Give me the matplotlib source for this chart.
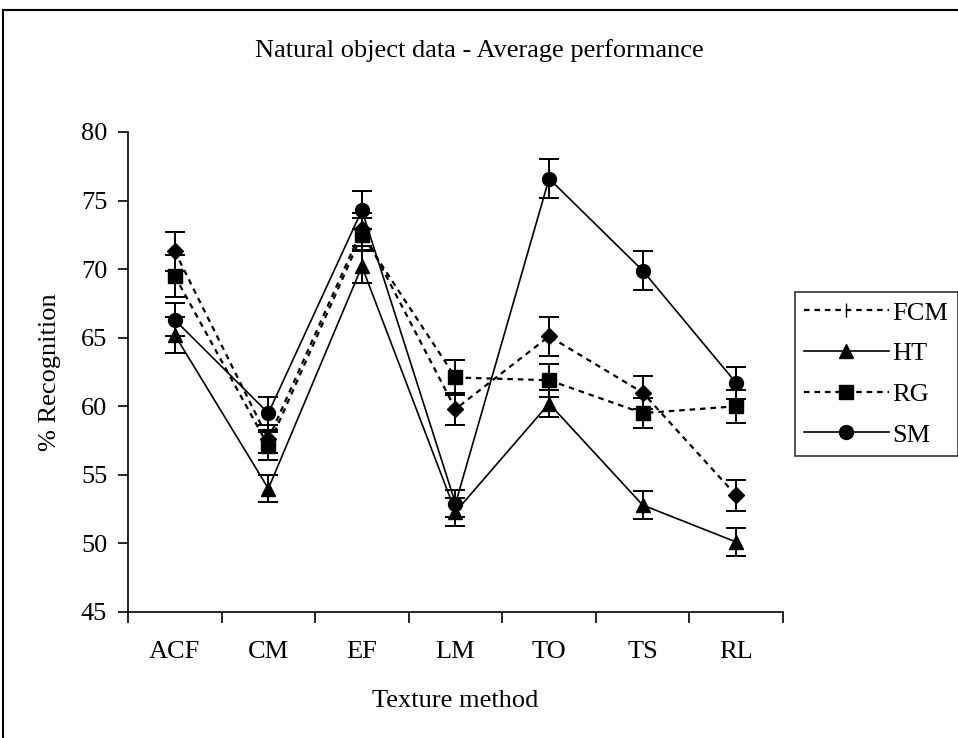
import matplotlib
matplotlib.use("Agg")
import matplotlib.pyplot as plt
from matplotlib.lines import Line2D

plt.rcParams['font.family'] = ['Liberation Serif', 'DejaVu Serif']

# data
methods = ["ACF", "CM", "EF", "LM", "TO", "TS", "RL"]
fcm = [71.3, 57.6, 72.9, 59.8, 65.1, 61.0, 53.5]
ht = [65.2, 54.0, 70.2, 52.3, 60.2, 52.8, 50.1]
rg = [69.5, 57.1, 72.5, 62.1, 61.9, 59.5, 60.0]
sm = [66.3, 59.5, 74.3, 52.9, 76.6, 69.9, 61.7]
fcm_err = [1.4, 1.0, 1.2, 1.2, 1.4, 1.2, 1.1]
ht_err = [1.3, 1.0, 1.2, 1.0, 1.0, 1.0, 1.0]
rg_err = [1.5, 1.0, 1.2, 1.3, 1.2, 1.1, 1.2]
sm_err = [1.2, 1.2, 1.4, 1.0, 1.4, 1.4, 1.2]

FS = 19

fig = plt.figure(figsize=(9.58, 7.38), dpi=100)
ax = fig.add_axes([128/958, 1-612/738, (783-128)/958, (612-132)/738])

x = [i + 0.5 for i in range(len(methods))]

series = [
    ("FCM", fcm, fcm_err, "D", True, 8),
    ("HT", ht, ht_err, "^", False, 9.5),
    ("RG", rg, rg_err, "s", True, 9.5),
    ("SM", sm, sm_err, "o", False, 10),
]
for name, vals, errs, mk, dashed, ms in series:
    line, caps, bars = ax.errorbar(x, vals, yerr=errs, color="black", marker=mk,
                                   markersize=ms, linewidth=1.2, elinewidth=1.4,
                                   capsize=7, capthick=1.4)
    if dashed:
        line.set_linestyle((0, (2.5, 2.2)))
        line.set_linewidth(1.6)

ax.set_xlim(0, 7)
ax.set_ylim(45, 80)
ax.set_yticks(range(45, 81, 5))
ax.set_xticks(range(0, 8))
ax.set_xticks(x, minor=True)
ax.set_xticklabels([])
ax.set_xticklabels(methods, minor=True)
ax.tick_params(axis="x", which="major", direction="out", length=8, width=1.2)
ax.tick_params(axis="x", which="minor", length=0, pad=21, labelsize=FS)
ax.tick_params(axis="y", direction="out", length=7, width=1.2, pad=8, labelsize=FS)
for s in ["top", "right"]:
    ax.spines[s].set_visible(False)
ax.spines["left"].set_linewidth(1.2)
ax.spines["bottom"].set_linewidth(1.2)

fig.text(479/958, 1-57/738, "Natural object data - Average performance",
         ha="center", va="baseline", fontsize=FS)
fig.text(455/958, 1-707/738, "Texture method", ha="center", va="baseline", fontsize=FS)
fig.text(50/958, 1-372/738, "% Recognition", ha="center", va="center",
         rotation=90, fontsize=FS)

# legend
handles = [
    Line2D([], [], color="black", linestyle=(0, (2.5, 2.2)), linewidth=1.6, marker="|", markersize=10),
    Line2D([], [], color="black", linewidth=1.2, marker="^", markersize=9.5),
    Line2D([], [], color="black", linestyle=(0, (2.5, 2.2)), linewidth=1.6, marker="s", markersize=9.5),
    Line2D([], [], color="black", linewidth=1.2, marker="o", markersize=10),
]
leg = fig.legend(handles, ["FCM", "HT", "RG", "SM"], loc="upper left",
                 bbox_to_anchor=(795/958, 1-292/738), fontsize=FS, frameon=True,
                 fancybox=False, edgecolor="black", handlelength=3.2,
                 handletextpad=0.15, labelspacing=0.65, borderpad=0.35,
                 borderaxespad=0)
leg.get_frame().set_linewidth(1.2)

# outer chart frame
fig.add_artist(Line2D([3/958, 3/958], [0, 1-10/738], color="black", linewidth=1.5, transform=fig.transFigure))
fig.add_artist(Line2D([3/958, 1], [1-10/738, 1-10/738], color="black", linewidth=1.5, transform=fig.transFigure))

fig.savefig("out.png", dpi=100)
